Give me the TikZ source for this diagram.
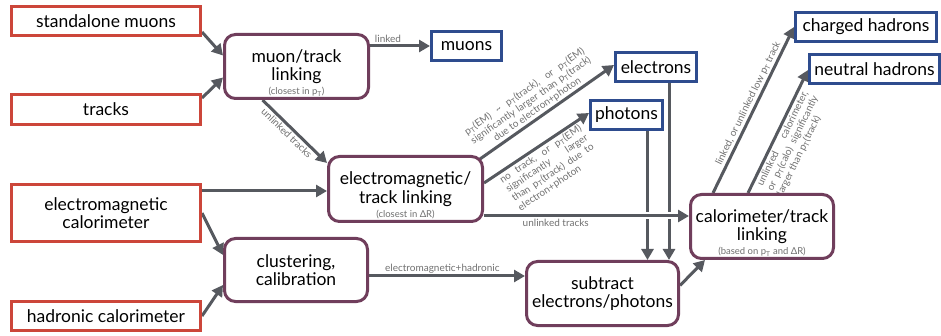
\documentclass[tikz,border=0pt]{standalone}
\usepackage{fontspec}
\setmainfont{Lato}
\usetikzlibrary{arrows.meta,calc,backgrounds}

\definecolor{inred}{RGB}{204,70,58}
\definecolor{outblue}{RGB}{46,76,142}
\definecolor{stageplum}{RGB}{112,62,92}
\definecolor{flowgray}{RGB}{86,89,95}
\definecolor{notegray}{RGB}{112,112,112}

\newcommand{\pT}{p\textsubscript{T}}
\newcommand{\spread}[2]{\makebox[#1][s]{#2}}

\tikzset{
  boxtext/.style={font=\fontsize{17.5}{18.5}\selectfont, text=black},
  inbox/.style={boxtext, draw=inred, line width=3pt, fill=white,
    minimum width=189pt, inner sep=0pt, align=center},
  outbox/.style={boxtext, draw=outblue, line width=3pt, fill=white,
    minimum height=29pt, inner sep=0pt, align=center},
  stagebox/.style={boxtext, draw=stageplum, line width=3pt, fill=white,
    rounded corners=11pt, inner sep=0pt, align=center},
  subtext/.style={font=\fontsize{9.5}{10}\selectfont, text=notegray, inner sep=0pt},
  flow/.style={draw=flowgray, line width=3pt,
    -{Triangle[length=11pt,width=12pt]}},
  note/.style={font=\fontsize{10}{11}\selectfont, text=notegray, inner sep=1.5pt},
}

\begin{document}
\begin{tikzpicture}[x=1pt,y=-1pt]
\useasboundingbox (0,0) rectangle (941,336);

% detector inputs
\node[inbox, minimum height=29pt] (sa)    at (106,21)  {standalone muons};
\node[inbox, minimum height=30pt] (trk)   at (106,109.5) {tracks};
\node[inbox, minimum height=57pt] (ecal)  at (106,213) {electromagnetic\\calorimeter};
\node[inbox, minimum height=29pt] (hcal)  at (106,316) {hadronic calorimeter};

% processing stages
\node[stagebox, minimum width=144pt, minimum height=64pt] (mu) at (296.5,66.5)
  {muon/track\\linking};
\node[stagebox, minimum width=154pt, minimum height=65pt] (em) at (405.5,189)
  {electromagnetic/\\track linking};
\node[stagebox, minimum width=143pt, minimum height=63pt] (cl) at (296,270)
  {clustering,\\calibration};
\node[stagebox, minimum width=152pt, minimum height=64pt] (sb) at (602.5,293.5)
  {subtract\\electrons/photons};
\node[stagebox, minimum width=143pt, minimum height=64pt] (ca) at (762,226.5)
  {calorimeter/track\\linking};

% criteria printed at the foot of the linking stages
\node[subtext] (mu-sub) at ([yshift=8pt]mu.south) {(closest in \pT)};
\node[subtext] (em-sub) at ([yshift=8pt]em.south) {(closest in ΔR)};
\node[subtext] (ca-sub) at ([yshift=8pt]ca.south) {(based on \pT{} and ΔR)};

% reconstructed objects
\node[outbox, minimum width=70pt]  (muons) at (466.5,46)  {muons};
\node[outbox, minimum width=81pt]  (ele)   at (656,67)    {electrons};
\node[outbox, minimum width=72pt]  (pho)   at (626.5,115) {photons};
\node[outbox, minimum width=141pt] (chh)   at (866,27)    {charged hadrons};
\node[outbox, minimum width=130pt] (neh)   at (874.5,69)  {neutral hadrons};

% helper points
\coordinate (emtop)  at ([yshift=26pt]em.west);
\coordinate (calin)  at ([yshift=10.5pt]ca.west);
\coordinate (sbin)   at ([yshift=17.5pt]sb.west);
\coordinate (elebot) at ([xshift=13pt]ele.south);
\coordinate (phobot) at ([xshift=21pt]pho.south);

\begin{scope}[on background layer]
  % into muon/track linking
  \draw[flow] ([yshift=5pt]sa.south east) -- ([yshift=11pt]mu.west);
  \draw[flow] ([yshift=-5pt]trk.north east) -- ([yshift=-11pt]mu.west);
  \draw[flow] (mu.east |- muons.west) -- node[note, above, pos=0.3] {linked} (muons.west);
  \draw[flow] ([xshift=-34pt]mu.south) -- node[note, sloped, below, pos=0.45] {unlinked tracks} (emtop);

  % calorimeters
  \draw[flow] ([yshift=22pt]ecal.east) -- ([yshift=-2pt]em.west);
  \draw[flow] (ecal.east) -- ([yshift=15pt]cl.west);
  \draw[flow] (hcal.east) -- ([yshift=-15pt]cl.west);
  \draw[flow] (cl.east |- sbin) -- node[note, above, pos=0.47] {electromagnetic+hadronic} (sbin);

  % electromagnetic/track linking outputs
  \draw[flow] ([xshift=-4pt,yshift=-4pt]em.north east) --
    node[note, sloped, above, pos=0.46, align=center]
      {\spread{144pt}{\pT(EM) \textasciitilde{} \pT(track), or \pT(EM)}\\
       \spread{144pt}{significantly larger than \pT(track)}\\
       due to electron+photon}
    ([yshift=2pt]ele.west);
  \draw[flow] ([yshift=6pt]em.east) --
    node[note, sloped, below, pos=0.5, align=left]
      {\spread{96pt}{no track, or \pT(EM)}\\
       \spread{96pt}{significantly larger}\\
       \spread{96pt}{than \pT(track) due to}\\
       electron+photon}
    ([yshift=2pt]pho.west);

  % electrons and photons into the subtraction
  \draw[flow] (elebot) -- (elebot |- sb.north);
  \draw[flow] (phobot) -- (phobot |- sb.north);
  \draw[draw=white, line width=7pt] ([xshift=20pt]em.east |- calin) -- ([xshift=-14pt]calin);
  \draw[flow] (em.east |- calin) -- node[note, below, pos=0.35] {unlinked tracks} (calin);

  % calorimeter/track linking
  \draw[flow] ([yshift=8pt]sb.east) -- ([xshift=-57pt]ca.south);
  \draw[flow] ([xshift=-49pt]ca.north) --
    node[note, sloped, above, pos=0.52] {linked, or unlinked low \pT{} track}
    (chh.west);
  \draw[flow] ([xshift=-14pt]ca.north) --
    node[note, sloped, below, pos=0.47, align=left]
      {\spread{104pt}{unlinked calorimeter,}\\
       \spread{104pt}{or \pT(calo) significantly}\\
       larger than \pT(track)}
    ([yshift=-1pt]neh.west);
\end{scope}
\end{tikzpicture}
\end{document}
